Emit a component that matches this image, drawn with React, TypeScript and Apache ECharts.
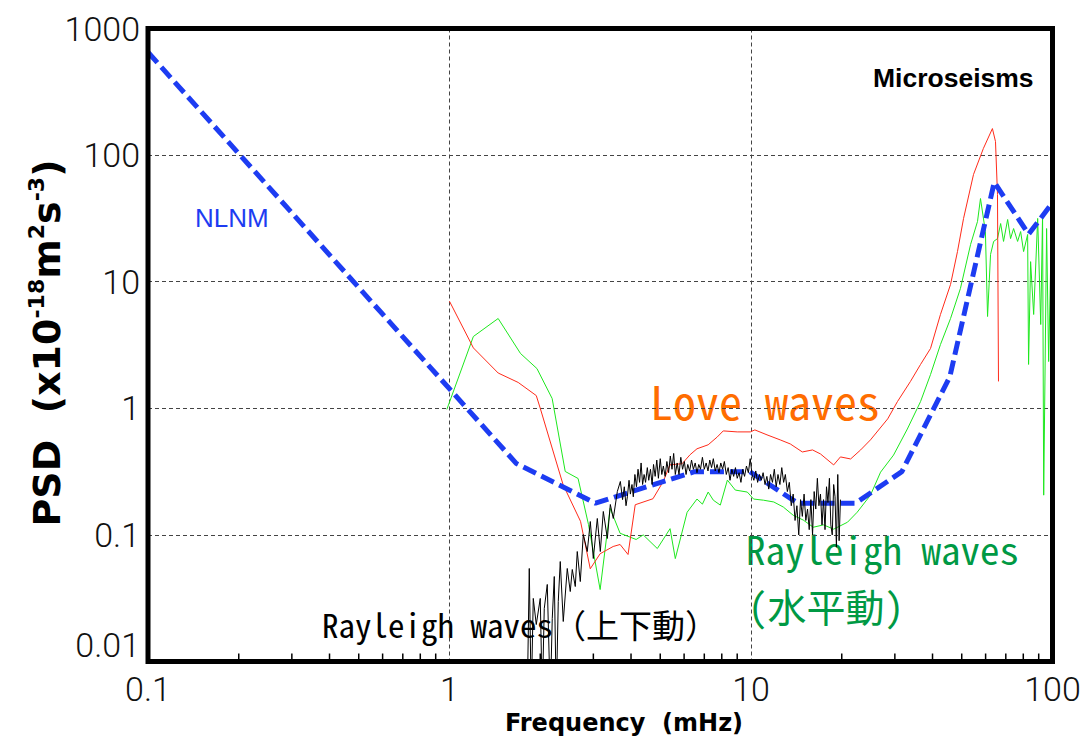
import React, { useEffect, useRef } from "react";
import * as echarts from "echarts";

// Axis ticks (mHz and 10^-18 m^2 s^-3)
const xTickValues = [0.1, 1, 10, 100];
const yTickValues = [0.01, 0.1, 1, 10, 100, 1000];
const minorTickValues = [
  0.2, 0.3, 0.4, 0.5, 0.6, 0.7, 0.8, 0.9,
  2, 3, 4, 5, 6, 7, 8, 9,
  20, 30, 40, 50, 60, 70, 80, 90,
];

// Peterson New Low Noise Model breakpoints
const nlnmFreq = [0.1, 1.667, 3.049, 6.494, 9.901, 14.286, 22.222, 31.646, 45.662, 64.103, 83.333, 100];
const nlnmPsd = [649, 0.366, 0.178, 0.316, 0.316, 0.178, 0.178, 0.316, 1.78, 61.2, 23.7, 42.2];

// Love waves
const loveFreq = [
  1.0, 1.2, 1.45, 1.69, 1.94, 2.0, 2.38, 2.72, 2.93, 3.16, 3.49, 3.68, 3.91, 4.13,
  4.73, 5.11, 5.39, 5.91, 6.28, 6.62, 7.21, 7.73, 8.09, 9.0, 9.95, 10.3, 11.3, 12.5,
  13.5, 14.8, 16.0, 17.0, 18.8, 19.8, 21.4, 23.1, 24.9, 28.4, 30.6, 33.8, 36.5, 39.4,
  42.5, 45.9, 48.4, 50.7, 54.7, 59.0, 63.2, 64.7, 65.7, 66.2,
];
const lovePsd = [
  7.0, 3.0, 1.9, 1.6, 1.26, 1.0, 0.25, 0.128, 0.054, 0.071, 0.081, 0.084, 0.07, 0.173,
  0.193, 0.263, 0.358, 0.365, 0.43, 0.479, 0.515, 0.594, 0.663, 0.651, 0.651, 0.675, 0.617, 0.563,
  0.523, 0.452, 0.469, 0.436, 0.357, 0.413, 0.398, 0.469, 0.563, 0.825, 1.13, 1.63, 2.22, 2.97,
  5.51, 9.51, 17.3, 31.6, 70.3, 113, 162, 128, 48.9, 1.63,
];

// Rayleigh waves, horizontal component
const rayHFreq = [
  0.98, 1.2, 1.45, 1.72, 1.95, 2.19, 2.42, 2.67, 2.89, 3.16, 3.41, 3.68, 4.16, 4.39,
  4.89, 5.39, 5.61, 6.14, 6.62, 6.9, 7.21, 7.5, 7.91, 8.35, 8.87, 9.72, 10.2, 11.0,
  11.9, 12.8, 13.8, 14.9, 16.1, 17.4, 18.8, 20.9, 22.5, 24.9, 26.9, 29.7, 33.0, 36.5,
  39.4, 42.5, 45.9, 49.5, 53.5, 56.4, 57.7, 59.9, 60.9, 62.3, 63.8, 65.7, 67.3, 68.8,
  71.0, 72.6, 74.3, 76.6, 78.4, 80.2, 82.7, 83.3, 84.6, 86.6, 89.3, 91.4, 92.7, 93.5,
  95.6, 97.1, 99.3, 100,
];
const rayHPsd = [
  0.98, 3.69, 5.12, 2.71, 2.06, 1.195, 0.317, 0.279, 0.121, 0.037, 0.162, 0.103, 0.092, 0.1,
  0.078, 0.112, 0.065, 0.151, 0.192, 0.175, 0.218, 0.188, 0.172, 0.271, 0.226, 0.218, 0.192, 0.188,
  0.182, 0.166, 0.143, 0.131, 0.115, 0.12, 0.111, 0.126, 0.151, 0.206, 0.313, 0.427, 0.686, 1.13,
  1.85, 3.19, 5.12, 8.84, 19.7, 29.9, 45.4, 24.9, 5.31, 16.4, 20.8, 21.9, 28.8, 20.8,
  31.0, 21.9, 26.3, 20.8, 24.9, 17.3, 23.6, 2.22, 14.4, 5.51, 31.6, 4.59, 33.9, 0.206,
  26.3, 2.34, 29.9, 2.81,
];

// Rayleigh waves, vertical component
const rayVFreq = [
  1.811, 1.839, 1.867, 1.896, 1.94, 2.0, 2.031, 2.062, 2.11, 2.159, 2.192, 2.226, 2.26, 2.295,
  2.33, 2.384, 2.458, 2.515, 2.554, 2.613, 2.653, 2.715, 2.778, 2.864, 2.931, 2.999, 3.092, 3.164,
  3.237, 3.338, 3.415, 3.494, 3.603, 3.687, 3.75, 3.8, 3.85, 3.89, 3.94, 3.98, 4.03, 4.07,
  4.12, 4.17, 4.22, 4.27, 4.32, 4.37, 4.42, 4.47, 4.53, 4.58, 4.64, 4.7, 4.75, 4.81,
  4.87, 4.93, 5.0, 5.06, 5.12, 5.19, 5.26, 5.33, 5.4, 5.47, 5.54, 5.61, 5.69, 5.77,
  5.85, 5.93, 6.01, 6.09, 6.17, 6.26, 6.35, 6.44, 6.53, 6.62, 6.71, 6.8, 6.9, 7.0,
  7.1, 7.2, 7.3, 7.4, 7.5, 7.61, 7.72, 7.83, 7.94, 8.05, 8.16, 8.28, 8.4, 8.52,
  8.64, 8.76, 8.88, 9.0, 9.13, 9.26, 9.39, 9.52, 9.66, 9.8, 9.94, 10.08, 10.22, 10.37,
  10.52, 10.67, 10.82, 10.97, 11.13, 11.29, 11.45, 11.61, 11.78, 11.95, 12.12, 12.29, 12.47, 12.65,
  12.83, 13.0, 13.2, 13.4, 13.6, 13.8, 14.0, 14.2, 14.4, 14.6, 14.8, 15.0, 15.2, 15.4,
  15.6, 15.8, 16.0, 16.2, 16.4, 16.6, 16.8, 17.0, 17.2, 17.4, 17.6, 17.8, 18.0, 18.2,
  18.4, 18.6, 18.8, 19.0, 19.2, 19.4, 19.6, 19.8,
];
const rayVPsd = [
  0.005, 0.0543, 0.005, 0.0315, 0.0196, 0.0315, 0.005, 0.0262, 0.0406, 0.005, 0.0219, 0.0469, 0.005, 0.0298,
  0.0616, 0.0207, 0.0543, 0.0357, 0.0533, 0.0391, 0.0739, 0.0428, 0.1007, 0.0739, 0.1275, 0.0651, 0.1348, 0.0739,
  0.1531, 0.0937, 0.1738, 0.1348, 0.2203, 0.2642, 0.19, 0.24, 0.17, 0.2, 0.27, 0.21, 0.25, 0.2,
  0.3, 0.24, 0.33, 0.26, 0.37, 0.25, 0.3, 0.26, 0.34, 0.27, 0.33, 0.25, 0.36, 0.29,
  0.39, 0.28, 0.4, 0.3, 0.35, 0.29, 0.38, 0.31, 0.42, 0.33, 0.44, 0.3, 0.37, 0.3,
  0.41, 0.33, 0.38, 0.3, 0.36, 0.32, 0.39, 0.33, 0.37, 0.31, 0.36, 0.33, 0.41, 0.33,
  0.37, 0.32, 0.39, 0.34, 0.4, 0.32, 0.36, 0.31, 0.37, 0.33, 0.38, 0.3, 0.34, 0.27,
  0.33, 0.29, 0.34, 0.28, 0.31, 0.26, 0.33, 0.29, 0.35, 0.31, 0.4, 0.3, 0.27, 0.32,
  0.26, 0.3, 0.27, 0.31, 0.25, 0.29, 0.23, 0.3, 0.26, 0.33, 0.24, 0.3, 0.25, 0.34,
  0.26, 0.3, 0.22, 0.26, 0.17, 0.21, 0.13, 0.17, 0.1, 0.19, 0.14, 0.21, 0.13, 0.16,
  0.11, 0.19, 0.1, 0.22, 0.16, 0.28, 0.17, 0.21, 0.12, 0.19, 0.11, 0.24, 0.18, 0.28,
  0.12, 0.1, 0.25, 0.2, 0.08, 0.3, 0.09, 0.19,
];

const pairs = (xs: number[], ys: number[]) => xs.map((x, i) => [x, ys[i]]);

const LABEL_FONT = "Roboto, 'Noto Sans', sans-serif";
const BOLD_FONT = "'DejaVu Sans', sans-serif";
const MONO_FONT = "'Noto Sans Mono CJK JP', 'Noto Sans CJK JP', monospace";

const fmt = (v: number) => String(Number(v.toPrecision(3)));

export default function App() {
  const ref = useRef<HTMLDivElement>(null);

  useEffect(() => {
    document.body.style.margin = "0";
    const chart = echarts.init(ref.current!, undefined, { renderer: "svg" });
    const yMin = yTickValues[0];

    chart.setOption({
      animation: false,
      backgroundColor: "#ffffff",
      grid: {
        left: 148,
        right: 35.5,
        top: 28.5,
        bottom: 82.5,
        show: true,
        borderColor: "#000",
        borderWidth: 5,
        backgroundColor: "transparent",
        z: 5,
      },
      xAxis: {
        type: "log",
        logBase: 10,
        min: xTickValues[0],
        max: xTickValues[xTickValues.length - 1],
        axisLine: { show: false },
        axisTick: { show: false },
        splitLine: { show: true, lineStyle: { color: "#444", width: 1, type: [4, 3] } },
        axisLabel: {
          fontFamily: LABEL_FONT,
          fontWeight: 300,
          fontSize: 34,
          color: "#111",
          margin: 10,
          formatter: (v: number) => fmt(v),
        },
      },
      yAxis: {
        type: "log",
        logBase: 10,
        min: yMin,
        max: yTickValues[yTickValues.length - 1],
        axisLine: { show: false },
        axisTick: { show: false },
        splitLine: { show: true, lineStyle: { color: "#444", width: 1, type: [4, 3] } },
        axisLabel: {
          fontFamily: LABEL_FONT,
          fontWeight: 300,
          fontSize: 34,
          color: "#111",
          margin: 8,
          verticalAlignMinLabel: "bottom",
          formatter: (v: number) => fmt(v),
        },
      },
      series: [
        {
          name: "Rayleigh waves (horizontal)",
          type: "line",
          data: pairs(rayHFreq, rayHPsd),
          showSymbol: false,
          lineStyle: { color: "#1ee81e", width: 1 },
          z: 2,
        },
        {
          name: "Love waves",
          type: "line",
          data: pairs(loveFreq, lovePsd),
          showSymbol: false,
          lineStyle: { color: "#ff2b1a", width: 1 },
          z: 2,
        },
        {
          name: "NLNM",
          type: "line",
          data: pairs(nlnmFreq, nlnmPsd),
          showSymbol: false,
          lineStyle: { color: "#1d3cf2", width: 5, type: [14, 6] },
          z: 3,
        },
        {
          name: "Rayleigh waves (vertical)",
          type: "line",
          data: pairs(rayVFreq, rayVPsd),
          showSymbol: false,
          lineStyle: { color: "#000", width: 1 },
          z: 4,
        },
        {
          name: "minor ticks",
          type: "custom",
          data: minorTickValues.map((v) => [v, yMin]),
          clip: false,
          silent: true,
          z: 6,
          renderItem: (_p: any, api: any) => {
            const pt = api.coord([api.value(0), api.value(1)]);
            return {
              type: "line",
              shape: { x1: pt[0], y1: pt[1], x2: pt[0], y2: pt[1] - 8 },
              style: { stroke: "#000", lineWidth: 1.5 },
            };
          },
        },
      ],
      graphic: [
        {
          type: "text",
          x: 47,
          y: 343,
          rotation: Math.PI / 2,
          style: {
            text: "{b|PSD  (x10}{s|-18}{b|m}{s|2}{b|s}{s|-3}{b|)}",
            align: "center",
            verticalAlign: "middle",
            fill: "#000",
            rich: {
              b: { fontFamily: BOLD_FONT, fontWeight: "bold", fontSize: 38, lineHeight: 44 },
              s: { fontFamily: BOLD_FONT, fontWeight: "bold", fontSize: 22, verticalAlign: "top", lineHeight: 22 },
            },
          },
        },
        {
          type: "text",
          x: 624,
          y: 723,
          style: {
            text: "Frequency  (mHz)",
            font: `bold 24px ${BOLD_FONT}`,
            fill: "#000",
            align: "center",
            verticalAlign: "middle",
          },
        },
        {
          type: "text",
          x: 195,
          y: 217.5,
          style: { text: "NLNM", font: "26px 'Liberation Sans', Arial, sans-serif", fill: "#1d3cf2", verticalAlign: "middle" },
        },
        {
          type: "text",
          x: 873,
          y: 78,
          style: {
            text: "Microseisms",
            font: "bold 26.5px 'Liberation Sans', Arial, sans-serif",
            fill: "#000",
            verticalAlign: "middle",
          },
        },
        {
          type: "text",
          x: 650,
          y: 400,
          style: { text: "Love waves", font: `46px ${MONO_FONT}`, fill: "#ff6d00", verticalAlign: "middle", lineHeight: 46 },
        },
        {
          type: "text",
          x: 746,
          y: 548,
          style: { text: "Rayleigh waves", font: `39px ${MONO_FONT}`, fill: "#009944", verticalAlign: "middle", lineHeight: 40 },
        },
        {
          type: "text",
          x: 748,
          y: 605,
          style: { text: "(水平動)", font: `39px ${MONO_FONT}`, fill: "#009944", verticalAlign: "middle", lineHeight: 40 },
        },
        {
          type: "text",
          x: 322,
          y: 624,
          style: { text: "Rayleigh waves（上下動）", font: `33px ${MONO_FONT}`, fill: "#000", verticalAlign: "middle", lineHeight: 34 },
        },
      ],
    });

    return () => chart.dispose();
  }, []);

  return <div ref={ref} style={{ width: 1088, height: 744 }} />;
}
